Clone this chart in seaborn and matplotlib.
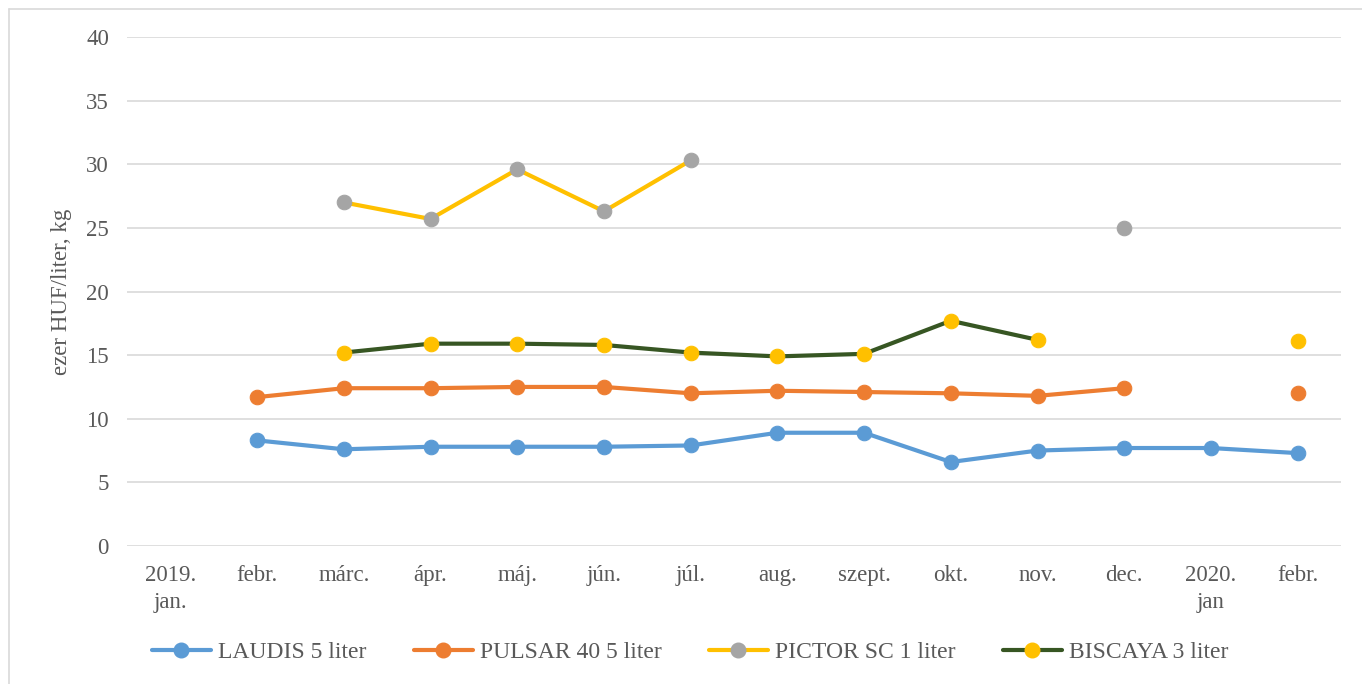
import numpy as np
import pandas as pd
import matplotlib
matplotlib.use("Agg")
import matplotlib.pyplot as plt
from matplotlib.lines import Line2D
import seaborn as sns

months = ["2019.\njan.", "febr.", "márc.", "ápr.", "máj.", "jún.", "júl.",
          "aug.", "szept.", "okt.", "nov.", "dec.", "2020.\njan", "febr."]
nan = np.nan
laudis = [nan, 8.3, 7.6, 7.8, 7.8, 7.8, 7.9, 8.9, 8.9, 6.6, 7.5, 7.7, 7.7, 7.3]
pulsar = [nan, 11.7, 12.4, 12.4, 12.5, 12.5, 12.0, 12.2, 12.1, 12.0, 11.8, 12.4, nan, 12.0]
pictor = [nan, nan, 27.0, 25.7, 29.6, 26.3, 30.3, nan, nan, nan, nan, 25.0, nan, nan]
biscaya = [nan, nan, 15.2, 15.9, 15.9, 15.8, 15.2, 14.9, 15.1, 17.7, 16.2, nan, nan, 16.1]
series_names = ["LAUDIS 5 liter", "PULSAR 40 5 liter", "PICTOR SC 1 liter", "BISCAYA 3 liter"]
yticks = [0, 5, 10, 15, 20, 25, 30, 35, 40]
ylabel = "ezer HUF/liter, kg"

line_colors = ["#5B9BD5", "#ED7D31", "#FFC000", "#375623"]
marker_colors = ["#5B9BD5", "#ED7D31", "#A5A5A5", "#FFC000"]

sns.set_theme(style="white")
plt.rcParams["font.family"] = ["Liberation Serif", "DejaVu Serif"]
text_color = "#595959"

fig = plt.figure(figsize=(13.62, 6.84), dpi=100)
ax = fig.add_axes([127 / 1362, 1 - 546 / 684, (1341 - 127) / 1362, (546 - 37) / 684])

x = np.arange(len(months))
handles = []
for name, vals, lc, mc in zip(series_names, [laudis, pulsar, pictor, biscaya], line_colors, marker_colors):
    v = np.array(vals, dtype=float)
    valid = ~np.isnan(v)
    seg = np.cumsum(np.concatenate([[1], (valid[1:] != valid[:-1]).astype(int)]))
    df = pd.DataFrame({"x": x, "y": v, "seg": seg})[valid]
    sns.lineplot(data=df, x="x", y="y", units="seg", estimator=None, ax=ax,
                 color=lc, linewidth=3, marker="o", markersize=10.5,
                 markerfacecolor=mc, markeredgecolor=mc, legend=False, zorder=3)
    handles.append(Line2D([0], [0], color=lc, linewidth=3, marker="o", markersize=10.5,
                          markerfacecolor=mc, markeredgecolor=mc, label=name))

ax.set_xlim(-0.5, len(months) - 0.5)
ax.set_ylim(0, 40)
ax.set_yticks(yticks)
ax.set_yticklabels([str(t) for t in yticks])
ax.set_xticks(x)
ax.set_xticklabels(months)
ax.yaxis.grid(True, color="#D9D9D9", linewidth=1.2)
ax.xaxis.grid(False)
for s in ax.spines.values():
    s.set_visible(False)
ax.tick_params(axis="both", length=0, labelsize=16.5, colors=text_color)
ax.tick_params(axis="y", pad=13)
ax.tick_params(axis="x", pad=14)
for lbl in ax.get_xticklabels():
    lbl.set_linespacing(1.35)
ax.set_xlabel("")
ax.set_ylabel(ylabel, fontsize=16.5, color=text_color, labelpad=10)

leg = fig.legend(handles=handles, loc="center", bbox_to_anchor=(690 / 1362, 1 - 652 / 684),
                 ncol=4, frameon=False, fontsize=17, handlelength=2.5, columnspacing=2.0,
                 handletextpad=0.3, labelcolor=text_color)

# outer chart border (top and left visible)
fig.add_artist(Line2D([9 / 1362, 9 / 1362], [0, 1 - 9 / 684], transform=fig.transFigure,
                      color="#D9D9D9", linewidth=1.2))
fig.add_artist(Line2D([9 / 1362, 1], [1 - 9 / 684, 1 - 9 / 684], transform=fig.transFigure,
                      color="#D9D9D9", linewidth=1.2))

fig.savefig("out.png", dpi=100)
